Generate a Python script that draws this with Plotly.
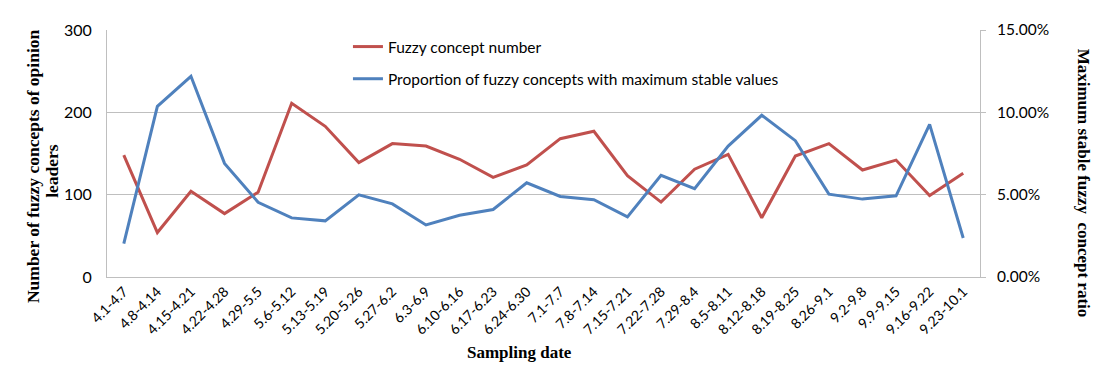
import plotly.graph_objects as go

categories = ["4.1-4.7", "4.8-4.14", "4.15-4.21", "4.22-4.28", "4.29-5.5", "5.6-5.12",
              "5.13-5.19", "5.20-5.26", "5.27-6.2", "6.3-6.9", "6.10-6.16", "6.17-6.23",
              "6.24-6.30", "7.1-7.7", "7.8-7.14", "7.15-7.21", "7.22-7.28", "7.29-8.4",
              "8.5-8.11", "8.12-8.18", "8.19-8.25", "8.26-9.1", "9.2-9.8", "9.9-9.15",
              "9.16-9.22", "9.23-10.1"]

fuzzy_concept_number = [148, 54, 104, 77, 103, 211, 183, 139, 162, 159, 143, 121,
                        136, 168, 177, 123, 91, 131, 149, 72, 147, 162, 130, 142,
                        99, 126]

max_stable_ratio = [0.0203, 0.1036, 0.1219, 0.0690, 0.0454, 0.0359, 0.0341, 0.0499,
                    0.0444, 0.0316, 0.0375, 0.0410, 0.0572, 0.0489, 0.0469, 0.0365,
                    0.0617, 0.0536, 0.0795, 0.0982, 0.0828, 0.0503, 0.0473, 0.0493,
                    0.0927, 0.0237]

left_ticks = [0, 100, 200, 300]
right_ticks = [0, 0.05, 0.10, 0.15]

RED = "#C0504D"
BLUE = "#4F81BD"
GRID = "#BFBFBF"
FONT = "Lato, Liberation Sans, sans-serif"
SERIF = "Liberation Serif, Times New Roman, serif"

fig = go.Figure()
fig.add_trace(go.Scatter(x=categories, y=fuzzy_concept_number, mode="lines",
                         name="Fuzzy concept number", legendgroup="a",
                         line=dict(color=RED, width=3)))
fig.add_trace(go.Scatter(x=categories, y=max_stable_ratio, mode="lines",
                         name="Proportion of fuzzy concepts with maximum stable values",
                         legendgroup="b", yaxis="y2",
                         line=dict(color=BLUE, width=3)))

fig.update_layout(
    width=1104, height=371,
    margin=dict(l=99, r=132, t=15, b=102),
    paper_bgcolor="white", plot_bgcolor="white",
    font=dict(family=FONT, size=14, color="black"),
    showlegend=True,
    legend=dict(x=0.276, y=1.0, xanchor="left", yanchor="top",
                font=dict(family=FONT, size=15.5, color="black"),
                bgcolor="rgba(0,0,0,0)", traceorder="grouped",
                tracegroupgap=9),
    xaxis=dict(type="category", tickangle=-45, showline=True, linecolor=GRID,
               linewidth=1, showgrid=False, ticks="", tickfont=dict(size=14),
               range=[-0.5, len(categories) - 0.5]),
    yaxis=dict(range=[0, 300], tickvals=left_ticks, showline=True, linecolor=GRID,
               gridcolor=GRID, gridwidth=1, zeroline=False, ticks="",
               ticklabelstandoff=11, tickfont=dict(size=16)),
    yaxis2=dict(range=[0, 0.15], tickvals=right_ticks, tickformat=".2%",
                overlaying="y", side="right", showline=True, linecolor=GRID,
                showgrid=False, zeroline=False, ticks="outside", ticklen=5,
                tickcolor=GRID, ticklabelstandoff=8, tickfont=dict(size=15.5)),
    annotations=[
        dict(text="<b>Number of fuzzy concepts of opinion</b>",
             xref="paper", yref="paper", x=-0.0848, y=0.449, xanchor="center",
             yanchor="middle", textangle=-90, showarrow=False,
             font=dict(family=SERIF, size=17.5, color="black")),
        dict(text="<b>leaders</b>",
             xref="paper", yref="paper", x=-0.063, y=0.43, xanchor="center",
             yanchor="middle", textangle=-90, showarrow=False,
             font=dict(family=SERIF, size=17.5, color="black")),
        dict(text="<b>Maximum stable fuzzy  concept ratio</b>",
             xref="paper", yref="paper", x=1.118, y=0.382, xanchor="center",
             yanchor="middle", textangle=90, showarrow=False,
             font=dict(family=SERIF, size=17, color="black")),
        dict(text="<b>Sampling date</b>",
             xref="paper", yref="paper", x=0.4725, y=-0.307, xanchor="center",
             yanchor="middle", showarrow=False,
             font=dict(family=SERIF, size=17, color="black")),
    ],
)

fig.write_html("out.html")
